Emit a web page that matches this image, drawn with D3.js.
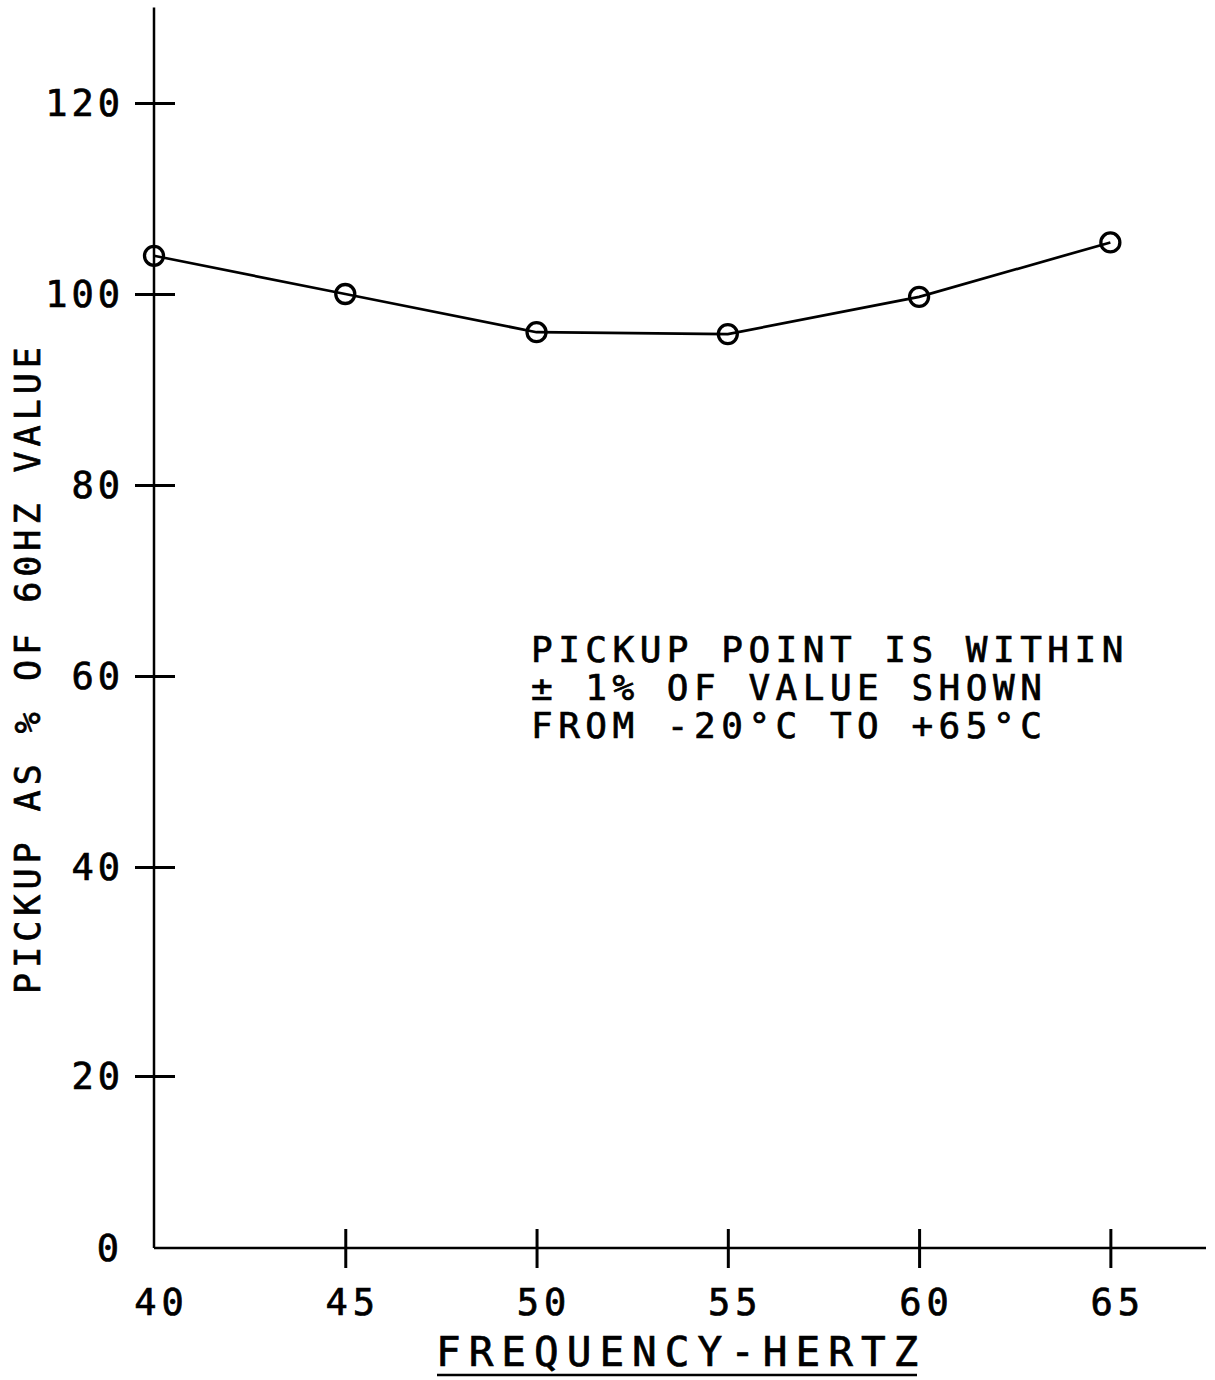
<!DOCTYPE html>
<html>
<head>
<meta charset="utf-8">
<script src="https://cdn.jsdelivr.net/npm/d3@7"></script>
<style>
  body { margin: 0; background: #fff; }
  text { font-family: "DejaVu Sans Mono", "Liberation Mono", monospace; fill: #000; stroke: #000; stroke-width: 0.7px; }
</style>
</head>
<body>
<script>
// Data
const frequencies = [40, 45, 50, 55, 60, 65];
const pickupPct = [104, 100, 96, 95.8, 99.7, 105.4];
const xTickValues = [40, 45, 50, 55, 60, 65];
const yTickValues = [0, 20, 40, 60, 80, 100, 120];
const noteLines = ["PICKUP POINT IS WITHIN", "\u00B1 1% OF VALUE SHOWN", "FROM -20\u00B0C TO +65\u00B0C"];

const width = 1215,
    height = 1380;

let svg = d3.select('body').append('svg')
    .attr('width', width)
    .attr('height', height);

// Scales (the hand-drawn y axis is a bit uneven near the bottom)
const x = d3.scaleLinear()
    .domain([40, 67.5])
    .range([154, 1206]);
const y = d3.scaleLinear()
    .domain([0, 20, 40, 120])
    .range([1248, 1076, 867, 103]);

// Axes lines
svg.append('line')
    .attr('x1', x(40)).attr('x2', x(40))
    .attr('y1', y(0)).attr('y2', y(130))
    .attr('stroke', '#000').attr('stroke-width', 2.5);
svg.append('line')
    .attr('x1', x(40)).attr('x2', x(67.5))
    .attr('y1', y(0)).attr('y2', y(0))
    .attr('stroke', '#000').attr('stroke-width', 2.5);

// Y axis ticks and labels
let yAxis = svg.append('g')
    .attr('transform', 'translate(' + x(40) + ',0)')
    .call(d3.axisLeft(y).tickValues(yTickValues).tickSize(19).tickPadding(15).tickFormat(d3.format('d')));
yAxis.select('.domain').remove();
yAxis.selectAll('.tick line')
    .attr('x1', -19).attr('x2', 21)
    .attr('stroke', '#000').attr('stroke-width', 3)
    .attr('display', d => d === 0 ? 'none' : null);
yAxis.selectAll('.tick text')
    .attr('font-size', 37)
    .attr('letter-spacing', 4)
    .attr('dy', '0.34em')
    .attr('x', d => d === 0 ? -31 : -30)
    .attr('fill', '#000');

// X axis ticks and labels
let xAxis = svg.append('g')
    .attr('transform', 'translate(0,' + y(0) + ')')
    .call(d3.axisBottom(x).tickValues(xTickValues).tickSize(19).tickPadding(22));
xAxis.select('.domain').remove();
xAxis.selectAll('.tick line')
    .attr('y1', -19).attr('y2', 20)
    .attr('stroke', '#000').attr('stroke-width', 3)
    .attr('display', d => d === 40 ? 'none' : null);
xAxis.selectAll('.tick text')
    .attr('font-size', 37)
    .attr('letter-spacing', 5)
    .attr('dx', 7)
    .attr('dy', '0.71em')
    .attr('fill', '#000');

// Axis titles
svg.append('text')
    .attr('transform', 'translate(40,' + 668 + ') rotate(-90)')
    .attr('text-anchor', 'middle')
    .attr('font-size', 35)
    .attr('letter-spacing', 5)
    .text('PICKUP AS % OF 60HZ VALUE');

svg.append('text')
    .attr('x', 436)
    .attr('y', 1366)
    .attr('font-size', 41)
    .attr('letter-spacing', 8)
    .text('FREQUENCY-HERTZ');
svg.append('line')
    .attr('x1', 437).attr('x2', 917)
    .attr('y1', 1375).attr('y2', 1375)
    .attr('stroke', '#000').attr('stroke-width', 2.5);

// Data line and circles
const line = d3.line()
    .x((d, i) => x(frequencies[i]))
    .y(d => y(d));

svg.append('path')
    .datum(pickupPct)
    .attr('d', line)
    .attr('fill', 'none')
    .attr('stroke', '#000')
    .attr('stroke-width', 2.7);

svg.append('g')
    .selectAll('circle')
    .data(pickupPct)
    .enter()
    .append('circle')
    .attr('cx', (d, i) => x(frequencies[i]))
    .attr('cy', d => y(d))
    .attr('r', 9.5)
    .attr('fill', 'none')
    .attr('stroke', '#000')
    .attr('stroke-width', 3.3);

// Note
svg.append('g')
    .selectAll('text')
    .data(noteLines)
    .enter()
    .append('text')
    .attr('x', 531)
    .attr('y', (d, i) => 662 + i * 38)
    .attr('font-size', 36)
    .attr('letter-spacing', 5.5)
    .text(d => d);
</script>
</body>
</html>
